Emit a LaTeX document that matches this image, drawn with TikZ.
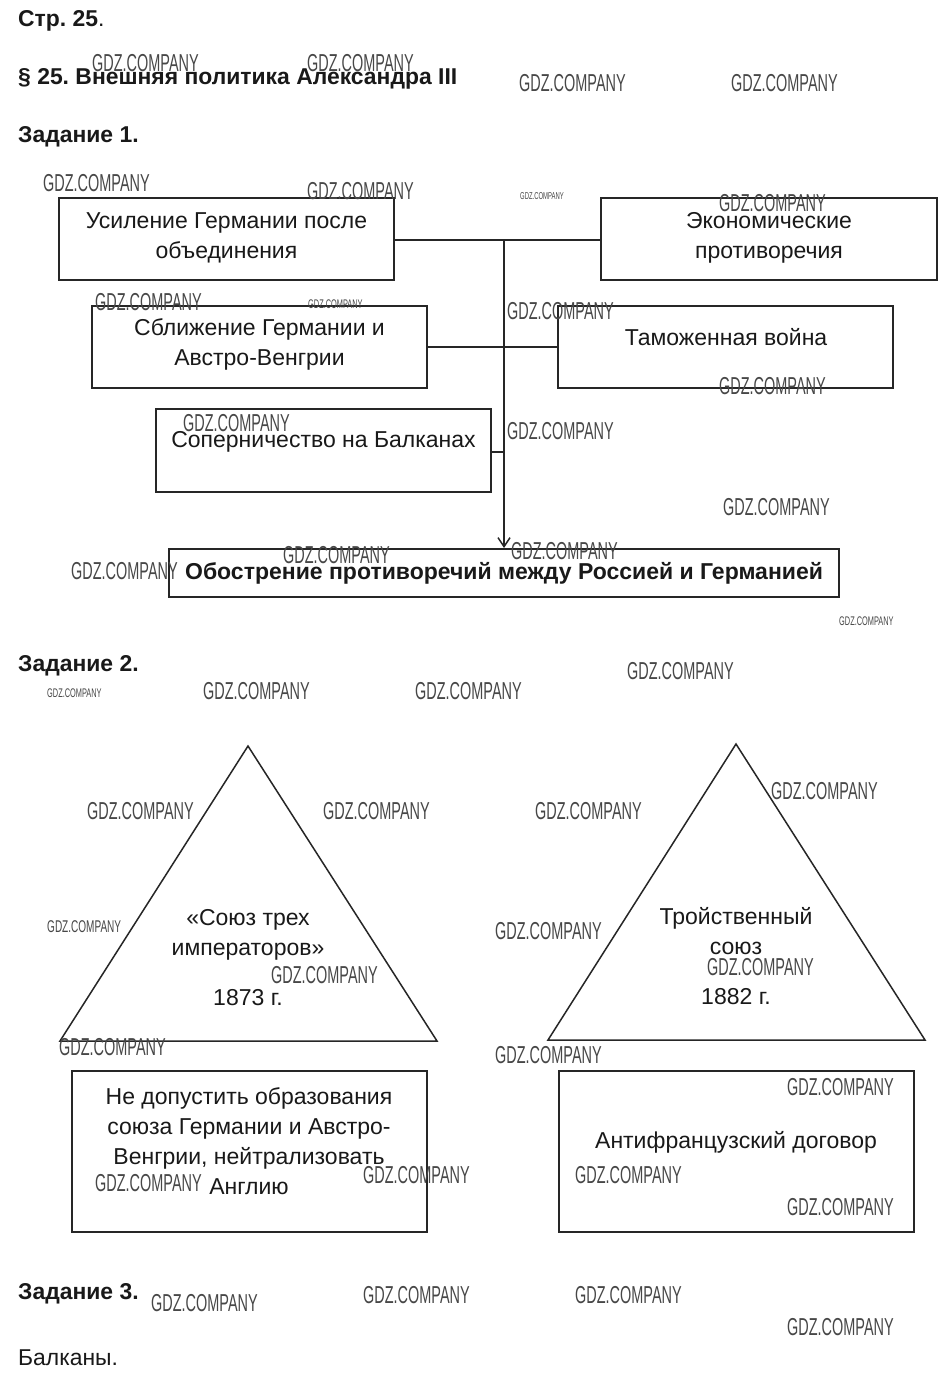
\documentclass[tikz,border=0pt]{standalone}
\usepackage{fontspec}
\setmainfont{Liberation Sans}
\newfontfamily\wmfont{Liberation Sans}[FakeStretch=0.59]
\usetikzlibrary{arrows.meta}
\frenchspacing
\tikzset{
  box/.style={draw=black!85, line width=2pt, inner sep=0pt},
  txt/.style={font=\fontsize{23}{30}\selectfont, align=center, inner sep=0pt, text=black!90},
  head/.style={font=\fontsize{22.9}{26}\selectfont\bfseries, anchor=base west, inner sep=0pt, text=black!90},
  wm/.style={anchor=west, inner sep=0pt, text=black!72},
  conn/.style={draw=black!85, line width=1.5pt},
  tri/.style={draw=black!85, line width=1.5pt, line join=miter},
}
\begin{document}
\begin{tikzpicture}[x=1pt,y=-1pt]
\useasboundingbox[fill=white] (0,0) rectangle (946,1383);
% headings
\node[head] (h1) at (18,27) {Стр. 25\mdseries.};
\node[head] (h2) at (18,85) {§ 25. Внешняя политика Александра III};
\node[head] (h3) at (18,143) {Задание 1.};
\node[head] (h4) at (18,671) {Задание 2.};
\node[head] (h5) at (18,1299) {Задание 3.};
\node[head, font=\fontsize{22.9}{26}\selectfont] (h6) at (18,1365) {Балканы.};
% task 1 boxes
\node[box, minimum width=335pt, minimum height=82pt] (a) at (226.5,239) {};
\node[txt] (ta) at (226.5,238) {Усиление Германии после\\объединения};
\node[box, minimum width=336pt, minimum height=82pt] (b) at (769,239) {};
\node[txt] (tb) at (769,238) {Экономические\\противоречия};
\node[box, minimum width=335pt, minimum height=82pt] (c) at (259.5,347) {};
\node[txt] (tc) at (259.5,344) {Сближение Германии и\\Австро-Венгрии};
\node[box, minimum width=335pt, minimum height=82pt] (d) at (725.5,347) {};
\node[txt] (td) at (726,337) {Таможенная война};
\node[box, minimum width=335pt, minimum height=83pt] (e) at (323.5,450.5) {};
\node[txt] (te) at (323.5,442) {Соперничество на Балканах};
\node[box, minimum width=670pt, minimum height=48pt] (f) at (504,573) {};
\node[txt, font=\fontsize{23}{30}\selectfont\bfseries] (tf) at (504,573) {Обострение противоречий между Россией и Германией};
% connectors
\coordinate (j1) at (504,240);
\draw[conn] (a.east |- j1) -- (b.west |- j1);
\draw[conn] (c.east) -- (d.west);
\draw[conn] (e.east |- 0,452) -- (504,452);
\draw[conn, -{Straight Barb[length=9pt,width=12pt,line width=1.5pt]}] (j1) -- (f.north);
% task 2 triangles
\coordinate (l1) at (248,746);
\coordinate (l2) at (60,1041);
\coordinate (l3) at (437,1041);
\draw[tri] (l1) -- (l2) -- (l3) -- cycle;
\coordinate (r1) at (736,744);
\coordinate (r2) at (548,1040);
\coordinate (r3) at (925,1040);
\draw[tri] (r1) -- (r2) -- (r3) -- cycle;
\node[txt] (tl1) at (248,935) {«Союз трех\\императоров»};
\node[txt] (tl2) at (248,998) {1873 г.};
\node[txt] (tr1) at (736,931) {Тройственный\\союз};
\node[txt] (tr2) at (736,997) {1882 г.};
\node[box, minimum width=355pt, minimum height=161pt] (g) at (249.5,1151.5) {};
\node[txt] (tg) at (249,1141.5) {Не допустить образования\\союза Германии и Австро-\\Венгрии, нейтрализовать\\Англию};
\node[box, minimum width=355pt, minimum height=161pt] (h) at (736.5,1151.5) {};
\node[txt] (th) at (736,1142) {Антифранцузский договор};
% watermarks
\foreach \x/\y/\s [count=\i] in {
 92/63/24.5, 307/63/24.5, 519/83/24.5, 731/83/24.5, 43/183/24.5, 307/191/24.5,
 520/196/10, 719/203/24.5, 95/302/24.5, 308/304/12.5, 507/311/24.5, 719/386/24.5,
 183/423/24.5, 507/431/24.5, 723/507/24.5, 283/555/24.5, 511/551/24.5, 71/571/24.5,
 839/621/12.5, 627/671/24.5, 47/693/12.5, 203/691/24.5, 415/691/24.5, 87/811/24.5,
 323/811/24.5, 535/811/24.5, 771/791/24.5, 47/927/17, 495/931/24.5, 271/975/24.5,
 707/967/24.5, 59/1047/24.5, 495/1055/24.5, 787/1087/24.5, 363/1175/24.5, 95/1183/24.5,
 575/1175/24.5, 787/1207/24.5, 151/1303/24.5, 363/1295/24.5, 575/1295/24.5, 787/1327/24.5}
 \node[wm, font=\fontsize{\s}{\s}\wmfont] (w\i) at (\x,\y) {GDZ.COMPANY};
\end{tikzpicture}
\end{document}
